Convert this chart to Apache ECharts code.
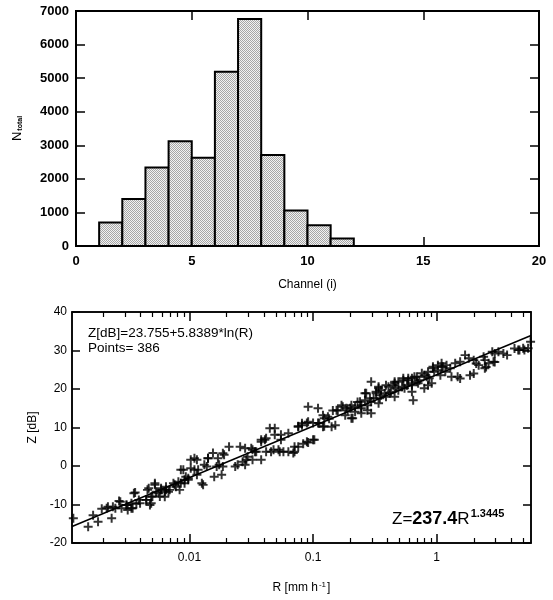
<!DOCTYPE html>
<html><head><meta charset="utf-8">
<script src="https://cdn.jsdelivr.net/npm/echarts@6/dist/echarts.min.js"></script>
<style>html,body{margin:0;padding:0;background:#fff}#c{width:553px;height:600px}</style>
</head><body><div id="c"></div>
<script>
// ---------- top chart: histogram ----------
const channelStart = [1, 2, 3, 4, 5, 6, 7, 8, 9, 10, 11];
const channelCount = [700, 1400, 2340, 3120, 2630, 5190, 6760, 2710, 1060, 620, 220];
const histXTicks = [0, 5, 10, 15, 20];
const histYTicks = [0, 1000, 2000, 3000, 4000, 5000, 6000, 7000];

// ---------- bottom chart: Z-R scatter ----------
// [log10(R [mm/h]), Z [dB]]
const scatterPts = [
[-2.94,-13.6],[-2.82,-15.8],[-2.74,-14.5],[-2.78,-12.8],[-2.63,-13.6],[-2.71,-11.1],[-2.67,-11.0],[-2.62,-10.6],[-2.57,-9.1],[-2.55,-11.0],
[-2.51,-10.1],[-2.50,-11.4],[-2.47,-9.7],[-2.46,-11.0],[-2.44,-6.9],[-2.43,-9.8],[-2.40,-9.7],[-2.35,-8.8],[-2.34,-6.2],[-2.31,-9.7],
[-2.30,-7.9],[-2.28,-4.5],[-2.27,-6.7],[-2.24,-7.9],[-2.23,-5.8],[-2.20,-6.7],[-2.19,-5.4],[-2.16,-6.2],[-2.13,-4.5],[-2.11,-5.4],
[-2.09,-4.1],[-2.07,-1.0],[-2.05,-1.0],[-2.07,-4.5],[-2.04,-3.6],[-2.03,-2.8],[-2.01,-3.2],[-1.99,-0.6],[-1.99,1.6],[-1.94,1.6],
[-1.93,-1.0],[-1.94,-2.3],[-1.90,-4.5],[-1.86,-0.1],[-1.85,2.0],[-1.81,3.4],[-1.78,-0.1],[-1.76,0.3],[-1.73,-0.1],[-1.72,2.9],
[-1.68,5.0],[-1.61,0.3],[-1.57,1.1],[-1.55,4.6],[-1.53,2.4],[-1.49,4.2],[-1.46,3.7],[-1.49,1.6],[-1.42,1.6],[-1.39,6.8],
[-1.38,3.7],[-1.34,3.7],[-1.31,9.8],[-1.31,8.1],[-1.28,4.2],[-1.35,9.8],[-1.32,4.2],[-1.26,6.8],[-1.24,3.7],[-1.20,3.7],
[-1.16,3.4],[-1.15,5.0],[-1.12,10.3],[-1.09,10.6],[-1.08,5.8],[-1.05,11.2],[-1.04,15.4],[-1.04,6.1],[-1.00,6.8],[-1.00,11.2],
[-0.96,15.0],[-0.96,11.2],[-0.92,13.2],[-0.91,10.3],[-0.87,12.3],[-0.84,14.4],[-0.82,10.6],[-0.80,14.4],[-0.76,15.4],[-0.74,13.2],
[-0.70,15.0],[-0.69,12.4],[-0.66,15.4],[-0.64,16.6],[-0.61,15.8],[-0.58,17.1],[-0.57,18.9],[-0.54,17.6],[-0.56,14.5],[-0.53,13.7],
[-0.53,16.7],[-0.49,18.9],[-0.46,17.6],[-0.45,19.7],[-0.42,18.9],[-0.41,18.0],[-0.39,20.6],[-0.37,19.3],[-0.35,21.0],[-0.33,20.2],
[-0.31,21.9],[-0.28,20.6],[-0.27,22.8],[-0.24,21.0],[-0.23,22.3],[-0.20,21.5],[-0.19,17.1],[-0.18,23.2],[-0.16,21.9],[-0.14,22.3],
[-0.12,24.1],[-0.10,20.2],[-0.08,23.2],[-0.06,22.8],[-0.03,25.8],[-0.02,24.5],[0.01,24.9],[0.03,23.6],[0.05,25.8],[0.07,24.5],
[0.08,26.2],[0.11,25.4],[0.12,23.2],[0.15,26.7],[0.17,23.2],[0.19,27.1],[0.23,28.8],[0.26,28.0],[0.27,23.6],[0.30,27.5],
[0.34,26.2],[0.38,28.4],[0.39,25.4],[0.42,26.7],[0.45,29.7],[0.46,27.1],[0.50,29.7],[0.57,28.8],[0.66,30.1],[0.70,30.6],
[0.74,30.6],[0.76,32.3],
[0.67,30.1],[0.71,30.1],[0.63,30.5],[0.54,29.2],[0.47,27.0],[0.40,25.7],[0.32,26.6],[0.30,24.0],[0.19,22.7],[0.39,27.5],[0.47,29.2],
[-0.53,21.9],[-0.58,18.9],[-0.69,15.8],[-0.72,14.5],[-0.62,16.7],[-0.47,20.6],[-0.41,21.0],[-0.34,21.9],[-0.27,22.3],[-0.23,22.8],
[-0.16,23.2],[-0.10,23.6],[-0.03,25.4],[0.01,26.2],[0.04,25.8],[-0.04,21.5],[-0.45,18.4],[-0.38,18.9],[-0.31,19.7],[-0.26,20.2],
[-0.20,21.0],[-0.15,21.5],[-0.51,17.6],[-0.49,19.3],[-0.66,14.1],[-0.61,15.0],[-0.56,15.8],
[-0.47,20.2],[-0.34,21.5],[-0.20,22.8],[-0.07,24.5],[0.04,26.7],[-0.61,13.7],[-0.47,16.3],[-0.34,18.0],[-0.20,19.3],[-0.07,21.0],
[-1.42,6.3],[-1.38,7.2],[-1.27,3.7],[-1.15,3.7],[-1.12,5.0],[-1.05,6.3],[-0.99,6.8],[-1.26,8.1],[-1.20,8.5],[-1.12,10.2],
[-1.09,11.1],[-1.04,11.5],[-0.95,11.1],[-0.91,12.4],[-0.88,12.8],[-0.85,10.2],[-0.81,14.5],[-0.77,15.8],[-0.73,15.0],[-0.68,12.4],[-0.92,10.2],
[-1.96,2.0],[-1.85,2.0],[-1.73,3.3],[-1.77,2.0],[-1.59,5.0],[-1.50,4.6],[-1.47,3.7],[-1.42,6.8],[-1.96,-1.0],[-1.88,0.3],
[-1.89,-4.9],[-1.80,-2.8],[-1.74,-2.3],[-1.63,-0.1],[-1.55,0.3],[-1.54,1.6],[-2.19,-6.2],[-2.12,-4.9],[-2.04,-4.5],[-2.01,-3.6],[-2.08,-6.2],
[-2.56,-9.3],[-2.51,-10.1],[-2.45,-7.1],[-2.47,-11.0],[-2.41,-8.8],[-2.33,-5.8],[-2.28,-4.9],[-2.35,-8.8],[-2.32,-10.1],[-2.31,-8.0],
[-2.25,-7.1],[-2.23,-6.2],[-2.20,-8.0],[-2.17,-6.7],[-2.66,-10.6],[-2.60,-11.0]
];
// fitted line, end points
const fitR = [0.00112, 5.8];
const fitZ = [-15.7, 33.9];

const rMin = 0.00112, rMax = 5.8;
const rMajorTicks = [0.01, 0.1, 1];
const rMinorTicks = [0.002,0.003,0.004,0.005,0.006,0.007,0.008,0.009,
  0.02,0.03,0.04,0.05,0.06,0.07,0.08,0.09,
  0.2,0.3,0.4,0.5,0.6,0.7,0.8,0.9, 2,3,4,5];
const zTicks = [-20, -10, 0, 10, 20, 30, 40];

// fine stipple pattern for the bars
const pat = document.createElement('canvas');
pat.width = 2; pat.height = 2;
const g = pat.getContext('2d');
g.fillStyle = '#f2f2f2'; g.fillRect(0, 0, 2, 2);
g.fillStyle = '#a6a6a6';
g.fillRect(0, 0, 1, 1); g.fillRect(1, 1, 1, 1);

const FF = '"Liberation Sans", Arial, sans-serif';
const chart = echarts.init(document.getElementById('c'), null, {renderer: 'canvas'});
const plain = v => String(v);

const boxAxis = {axisLine: {show: true, onZero: false, lineStyle: {color: '#000', width: 2}}, splitLine: {show: false}};
const thinLine = {show: true, onZero: false, lineStyle: {color: '#000', width: 1.5}};

const option = {
  animation: false,
  backgroundColor: '#fff',
  textStyle: {fontFamily: FF, color: '#000'},
  grid: [
    {left: 76, top: 11, width: 463, height: 235, show: true, borderColor: '#000', borderWidth: 2},
    {left: 72, top: 312, width: 459, height: 231, show: true, borderColor: '#000', borderWidth: 1.5}
  ],
  xAxis: [
    Object.assign({type: 'value', gridIndex: 0, min: 0, max: 20, interval: 5, position: 'bottom',
      name: 'Channel (i)', nameLocation: 'middle', nameGap: 33,
      nameTextStyle: {fontSize: 12, fontFamily: FF, color: '#000'},
      axisTick: {show: true, inside: true, length: 9, lineStyle: {color: '#000', width: 1.5}, customValues: histXTicks.slice(1, -1)},
      axisLabel: {fontSize: 13, fontWeight: 'bold', color: '#000', margin: 9, fontFamily: FF, customValues: histXTicks, formatter: plain}
    }, boxAxis),
    Object.assign({type: 'value', gridIndex: 0, min: 0, max: 20, interval: 5, position: 'top',
      axisTick: {show: true, inside: true, length: 9, lineStyle: {color: '#000', width: 1.5}, customValues: histXTicks.slice(1, -1)},
      axisLabel: {show: false}
    }, boxAxis),
    {type: 'log', gridIndex: 1, min: rMin, max: rMax, logBase: 10, position: 'bottom',
      name: '{a|R [mm h}{s|-1}{a|]}', nameLocation: 'middle', nameGap: 38,
      nameTextStyle: {rich: {a: {fontSize: 12, fontFamily: FF, color: '#000'}, s: {fontSize: 8, fontFamily: FF, color: '#000', verticalAlign: 'top', padding: [0, 1, 6, 1]}}},
      axisLine: thinLine, splitLine: {show: false}, minorTick: {show: false},
      axisTick: {show: true, inside: true, length: 9, lineStyle: {color: '#000', width: 1.5}, customValues: rMajorTicks},
      axisLabel: {fontSize: 12, color: '#000', margin: 9, fontFamily: FF, customValues: rMajorTicks, formatter: plain}
    },
    {type: 'log', gridIndex: 1, min: rMin, max: rMax, logBase: 10, position: 'bottom',
      axisLine: {show: false, onZero: false}, splitLine: {show: false},
      axisTick: {show: true, inside: true, length: 5, lineStyle: {color: '#000', width: 1.2}, customValues: rMinorTicks},
      axisLabel: {show: false}
    },
    {type: 'log', gridIndex: 1, min: rMin, max: rMax, logBase: 10, position: 'top',
      axisLine: thinLine, splitLine: {show: false},
      axisTick: {show: true, inside: true, length: 9, lineStyle: {color: '#000', width: 1.5}, customValues: rMajorTicks},
      axisLabel: {show: false}
    },
    {type: 'log', gridIndex: 1, min: rMin, max: rMax, logBase: 10, position: 'top',
      axisLine: {show: false, onZero: false}, splitLine: {show: false},
      axisTick: {show: true, inside: true, length: 5, lineStyle: {color: '#000', width: 1.2}, customValues: rMinorTicks},
      axisLabel: {show: false}
    }
  ],
  yAxis: [
    Object.assign({type: 'value', gridIndex: 0, min: 0, max: 7000, interval: 1000, position: 'left',
      name: '{n|N}{s|total}', nameLocation: 'middle', nameGap: 52,
      nameTextStyle: {rich: {n: {fontSize: 13, fontFamily: FF, color: '#000'}, s: {fontSize: 7, fontWeight: 'bold', fontFamily: FF, color: '#000', verticalAlign: 'bottom', padding: [4, 0, 0, 1]}}},
      axisTick: {show: true, inside: true, length: 9, lineStyle: {color: '#000', width: 1.5}},
      axisLabel: {fontSize: 13, fontWeight: 'bold', color: '#000', margin: 7, fontFamily: FF, customValues: histYTicks, formatter: plain}
    }, boxAxis),
    Object.assign({type: 'value', gridIndex: 0, min: 0, max: 7000, interval: 1000, position: 'right',
      axisTick: {show: true, inside: true, length: 9, lineStyle: {color: '#000', width: 1.5}},
      axisLabel: {show: false}
    }, boxAxis),
    {type: 'value', gridIndex: 1, min: -20, max: 40, interval: 10, position: 'left',
      name: 'Z [dB]', nameLocation: 'middle', nameGap: 30,
      nameTextStyle: {fontSize: 12, fontFamily: FF, color: '#000'},
      axisLine: thinLine, splitLine: {show: false},
      axisTick: {show: true, inside: true, length: 8, lineStyle: {color: '#000', width: 1.5}},
      axisLabel: {fontSize: 12, color: '#000', margin: 5, fontFamily: FF, customValues: zTicks, formatter: plain}
    },
    {type: 'value', gridIndex: 1, min: -20, max: 40, interval: 10, position: 'right',
      axisLine: thinLine, splitLine: {show: false},
      axisTick: {show: true, inside: true, length: 8, lineStyle: {color: '#000', width: 1.5}},
      axisLabel: {show: false}
    }
  ],
  series: [
    {
      type: 'custom', xAxisIndex: 0, yAxisIndex: 0,
      data: channelStart.map((c, i) => [c, channelCount[i]]),
      encode: {x: 0, y: 1},
      renderItem: function (params, api) {
        const x0 = api.value(0), v = api.value(1);
        const p0 = api.coord([x0, 0]);
        const p1 = api.coord([x0 + 1, v]);
        return {
          type: 'rect',
          shape: {x: p0[0], y: p1[1], width: p1[0] - p0[0], height: p0[1] - p1[1]},
          style: {fill: {image: pat, repeat: 'repeat'}, stroke: '#000', lineWidth: 2}
        };
      }
    },
    {
      type: 'line', xAxisIndex: 2, yAxisIndex: 2,
      data: fitR.map((r, i) => [r, fitZ[i]]),
      symbol: 'none', lineStyle: {color: '#000', width: 1.5}, z: 3
    },
    {
      type: 'scatter', xAxisIndex: 2, yAxisIndex: 2,
      data: scatterPts.map(p => [Math.pow(10, p[0]), p[1]]),
      symbol: 'path://M3.9,0H6.1V3.9H10V6.1H6.1V10H3.9V6.1H0V3.9H3.9Z',
      symbolSize: 9,
      itemStyle: {color: '#000'}, z: 4
    }
  ],
  graphic: [
    {type: 'text', left: 88, top: 326, style: {text: 'Z[dB]=23.755+5.8389*ln(R)', fontSize: 13.5, fontFamily: FF, fill: '#000'}},
    {type: 'text', left: 88, top: 341, style: {text: 'Points= 386', fontSize: 13.5, fontFamily: FF, fill: '#000'}},
    {type: 'text', left: 392, top: 508, style: {
      text: '{a|Z=}{b|237.4}{a|R}{c|1.3445}',
      rich: {
        a: {fontSize: 17, fontFamily: FF, color: '#000'},
        b: {fontSize: 18, fontWeight: 'bold', fontFamily: FF, color: '#000'},
        c: {fontSize: 11, fontWeight: 'bold', fontFamily: FF, color: '#000', verticalAlign: 'top', padding: [0, 0, 12, 1]}
      }
    }}
  ]
};
chart.setOption(option);
</script>
</body></html>
